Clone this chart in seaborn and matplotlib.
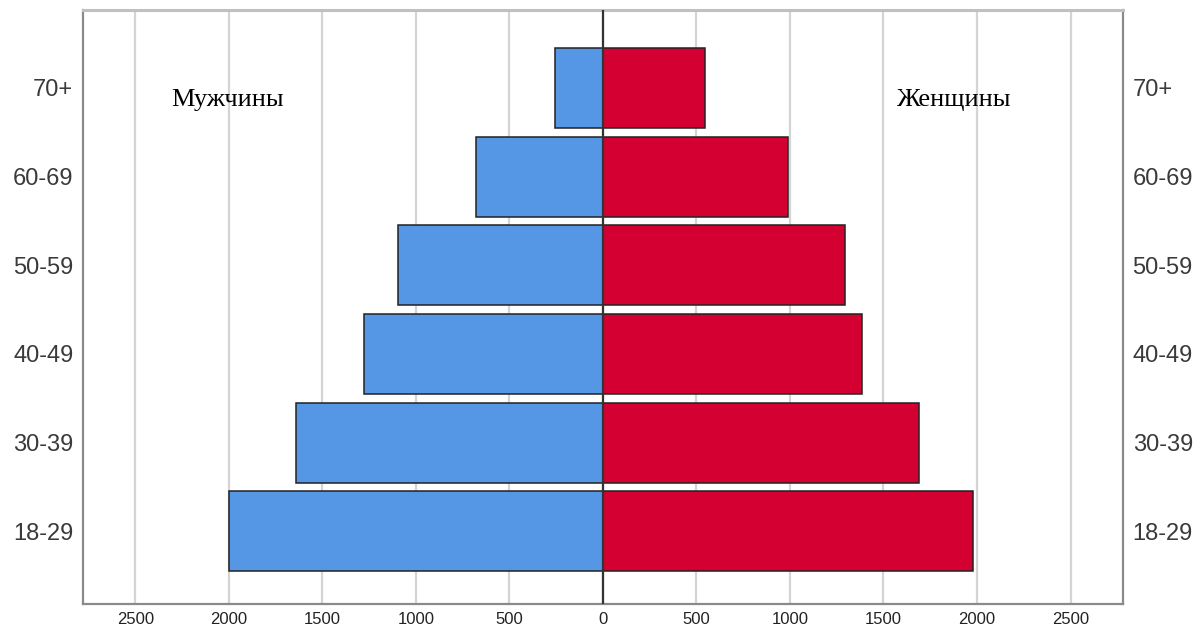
import seaborn as sns
import pandas as pd
from matplotlib import pyplot as plt

# Age groups, from top to bottom
age_groups = ['70+', '60-69', '50-59', '40-49', '30-39', '18-29']
male = [255, 678, 1095, 1277, 1640, 2000]
female = [545, 990, 1293, 1384, 1688, 1977]
x_ticks = [-2500, -2000, -1500, -1000, -500, 0, 500, 1000, 1500, 2000, 2500]

df = pd.DataFrame({
    'age': age_groups * 2,
    'count': [-v for v in male] + female,
    'sex': ['Мужчины'] * len(age_groups) + ['Женщины'] * len(age_groups),
})

sns.set_style("white")
plt.rcParams['font.family'] = ['Liberation Sans', 'DejaVu Sans']

fig = plt.figure(figsize=(11.98, 6.32), dpi=100)
ax = fig.add_axes([0.0693, 0.0443, 0.868, 0.940])

# Grid lines behind bars
for t in x_ticks:
    ax.axvline(t, color='#d4d4d4', lw=1.6, zorder=0)

sns.barplot(data=df, y='age', x='count', hue='sex', order=age_groups,
            palette={'Мужчины': '#5596e5', 'Женщины': '#d50032'},
            saturation=1, dodge=False, width=0.9, orient='h',
            edgecolor='#222222', linewidth=1.1, legend=False, ax=ax, zorder=2)

ax.axvline(0, color='#333333', lw=1.6, zorder=3)

ax.set_xlim(-2780, 2780)
ax.set_ylim(5.82, -0.88)
ax.set_xticks(x_ticks)
ax.set_xticklabels([str(abs(t)) for t in x_ticks], fontsize=12, color='#222222')
ax.tick_params(axis='x', length=0, pad=6)
ax.tick_params(axis='y', length=0, labelright=True, labelsize=17,
               labelcolor='#3a3a3a', pad=7)
ax.set_xlabel('')
ax.set_ylabel('')

for side in ['left', 'bottom', 'right']:
    ax.spines[side].set_color('#8a8a8a')
    ax.spines[side].set_linewidth(1.6)
ax.spines['top'].set_color('#c0c0c0')
ax.spines['top'].set_linewidth(2.2)

ax.text(0.139, 0.848, 'Мужчины', transform=ax.transAxes, ha='center', va='center',
        fontsize=19, family=['Liberation Serif', 'DejaVu Serif'], color='black')
ax.text(0.838, 0.848, 'Женщины', transform=ax.transAxes, ha='center', va='center',
        fontsize=19, family=['Liberation Serif', 'DejaVu Serif'], color='black')

fig.savefig('out.png', dpi=100)
